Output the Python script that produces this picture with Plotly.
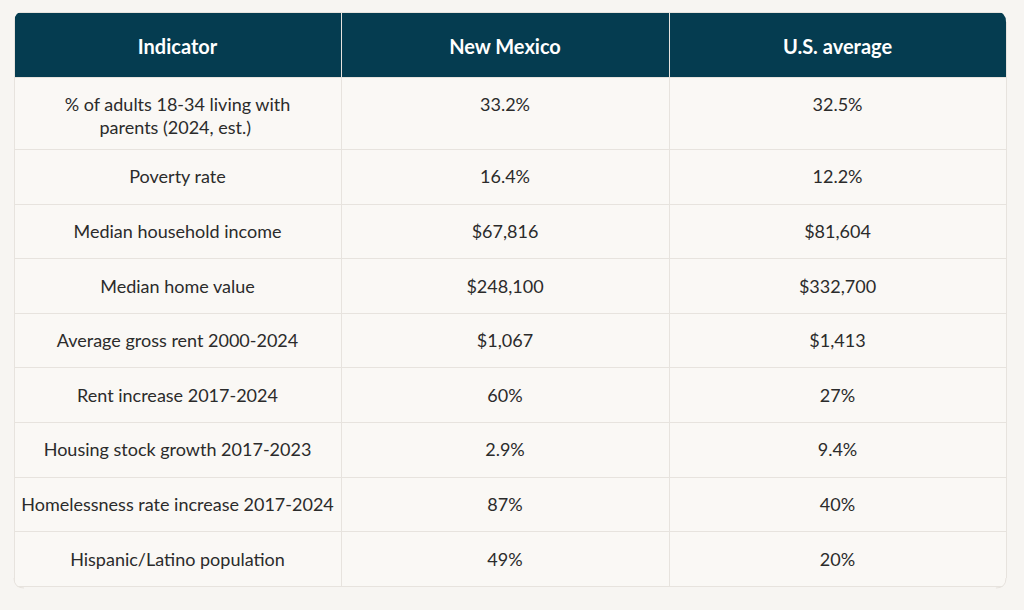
import plotly.graph_objects as go

W, H = 1024, 610

header_labels = ["Indicator", "New Mexico", "U.S. average"]
indicators = [
    "% of adults 18-34 living with<br>parents (2024, est.)",
    "Poverty rate",
    "Median household income",
    "Median home value",
    "Average gross rent 2000-2024",
    "Rent increase 2017-2024",
    "Housing stock growth 2017-2023",
    "Homelessness rate increase 2017-2024",
    "Hispanic/Latino population",
]
new_mexico = ["33.2%", "16.4%", "$67,816", "$248,100", "$1,067", "60%", "2.9%", "87%", "49%"]
us_average = ["32.5%", "12.2%", "$81,604", "$332,700", "$1,413", "27%", "9.4%", "40%", "20%"]

BG = "#f7f5f2"
CELL = "#faf8f5"
HEAD = "#053c50"
GRID = "#e7e3de"
TXT = "#2b2b2b"
FONT = "Lato"

L, R, T, B = 14, 1006, 12, 588
RAD = 10


def strut(size, extra=0):
    # invisible spacer that sets the line's box height (and optionally adds
    # horizontal room) so the table's top-aligned text ends up centred
    style = f"font-size:{size}px" + (f";letter-spacing:{extra}px" if extra else "")
    return f'<span style="{style}">&nbsp;</span>'


def centred(text, size, indent=0, next_size=None):
    lines = text.split("<br>")
    lines[0] = strut(size) + lines[0] + strut(size)
    if len(lines) == 1:
        lines.append("")  # explicit break: keeps the table from re-wrapping the markup
    else:
        # following lines are left-aligned by the table; indent them to centre
        ns = next_size or size
        lines[1:] = [strut(ns) + strut(1, indent) + ln for ln in lines[1:]]
    return "<br>".join(lines)


fig = go.Figure(go.Table(
    domain=dict(x=[L / W, R / W], y=[1 - B / H, 1 - T / H]),
    columnwidth=[327, 328, 337],
    header=dict(
        values=[centred(f"<b>{h}</b>", 34) for h in header_labels],
        fill_color=HEAD,
        line=dict(color=GRID, width=1),
        align="center",
        height=65,
        font=dict(family=FONT, size=20, color="white"),
    ),
    cells=dict(
        values=[[centred(v, 26, 33, 32) for v in col]
                for col in (indicators, new_mexico, us_average)],
        fill_color=CELL,
        line=dict(color=GRID, width=1),
        align="center",
        height=54.6,
        font=dict(family=FONT, size=18, color=TXT),
    ),
))


def px(x, y):
    return f"{x / W:.6f},{1 - y / H:.6f}"


shapes = []
for cx, cy, sx, sy in [(L, T, 1, 1), (R, T, -1, 1), (L, B, 1, -1), (R, B, -1, -1)]:
    shapes.append(dict(
        type="path", xref="paper", yref="paper", layer="above",
        path=(f"M {px(cx - sx, cy + sy * RAD)} L {px(cx - sx, cy - sy)} "
              f"L {px(cx + sx * RAD, cy - sy)} Q {px(cx, cy)} {px(cx, cy + sy * RAD)} Z"),
        fillcolor=BG, line=dict(width=0)))
    if sy == -1:
        shapes.append(dict(
            type="path", xref="paper", yref="paper", layer="above",
            path=f"M {px(cx, cy + sy * RAD)} Q {px(cx, cy)} {px(cx + sx * RAD, cy)}",
            line=dict(color=GRID, width=1)))

fig.update_layout(
    width=W, height=H,
    margin=dict(l=0, r=0, t=0, b=0),
    paper_bgcolor=BG,
    plot_bgcolor=BG,
    shapes=shapes,
)

fig.write_html(
    "out.html",
    config={"displayModeBar": False},
    post_script="document.body.style.margin='0';document.body.style.background='%s';" % BG,
)
